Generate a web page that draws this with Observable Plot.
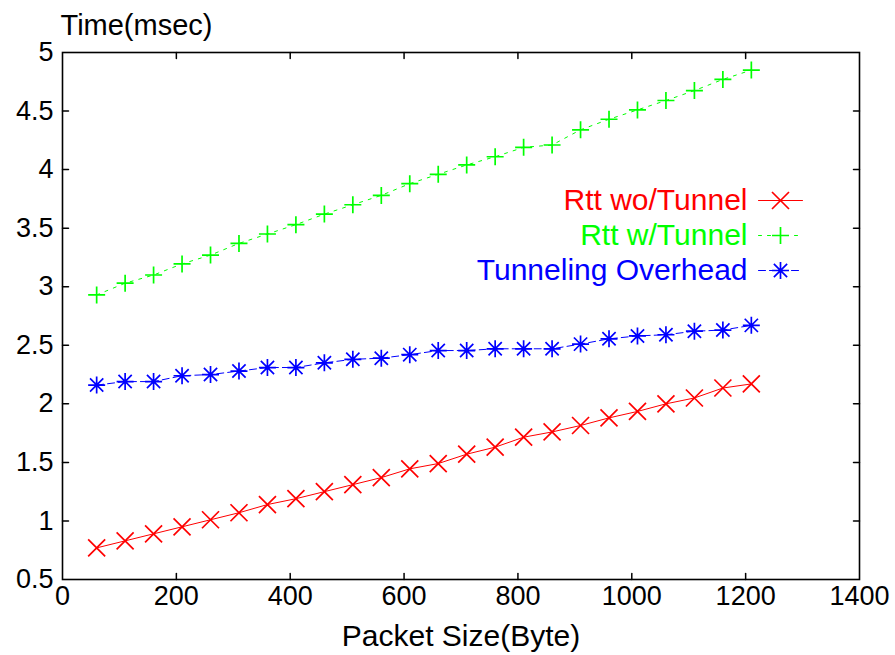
<!DOCTYPE html>
<html>
<head>
<meta charset="utf-8">
<script src="https://cdn.jsdelivr.net/npm/d3@7"></script>
<script src="https://cdn.jsdelivr.net/npm/@observablehq/plot@0.6"></script>
<style>
  html, body { margin: 0; padding: 0; background: #fff; }
  #chart svg { display: block; }
</style>
</head>
<body>
<div id="chart"></div>
<script>
// ---- data ----
const packetSizes = [60, 110, 160, 210, 260, 310, 360, 410, 460, 510, 560, 610, 660, 710, 760, 810, 860, 910, 960, 1010, 1060, 1110, 1160, 1210];
const rttWoTunnel = [0.77, 0.83, 0.89, 0.95, 1.01, 1.07, 1.14, 1.19, 1.25, 1.31, 1.37, 1.445, 1.49, 1.57, 1.63, 1.715, 1.76, 1.815, 1.88, 1.935, 2.0, 2.05, 2.135, 2.17];
const rttWTunnel = [2.93, 3.03, 3.10, 3.195, 3.27, 3.37, 3.45, 3.53, 3.62, 3.70, 3.78, 3.88, 3.96, 4.04, 4.11, 4.19, 4.21, 4.34, 4.43, 4.51, 4.59, 4.675, 4.77, 4.85];
const tunnelOverhead = [2.16, 2.19, 2.19, 2.24, 2.25, 2.28, 2.31, 2.31, 2.35, 2.38, 2.39, 2.42, 2.455, 2.455, 2.47, 2.47, 2.47, 2.51, 2.555, 2.58, 2.59, 2.62, 2.63, 2.67];
const seriesNames = ["Rtt wo/Tunnel", "Rtt w/Tunnel", "Tunneling Overhead"];
const xTicks = [0, 200, 400, 600, 800, 1000, 1200, 1400];
const yTicks = [0.5, 1, 1.5, 2, 2.5, 3, 3.5, 4, 4.5, 5];
const xLabel = "Packet Size(Byte)";
const yLabel = "Time(msec)";

// ---- symbols (gnuplot style) ----
const symTimes = {draw(c, s) { const r = Math.sqrt(s / Math.PI); c.moveTo(-r, -r); c.lineTo(r, r); c.moveTo(-r, r); c.lineTo(r, -r); }};
const symPlus = {draw(c, s) { const r = Math.sqrt(s / Math.PI); c.moveTo(-r, 0); c.lineTo(r, 0); c.moveTo(0, -r); c.lineTo(0, r); }};
const symStar = {draw(c, s) { const r = Math.sqrt(s / Math.PI); const q = r * 0.78; c.moveTo(-r, 0); c.lineTo(r, 0); c.moveTo(0, -r); c.lineTo(0, r); c.moveTo(-q, -q); c.lineTo(q, q); c.moveTo(-q, q); c.lineTo(q, -q); }};
const tickShape = {draw(c, l) { c.moveTo(0, 0); c.lineTo(0, -l); }};

const series = [
  {name: seriesNames[0], values: rttWoTunnel, color: "#ff0000", symbol: symTimes, dash: null},
  {name: seriesNames[1], values: rttWTunnel, color: "#00ff00", symbol: symPlus, dash: "3,6"},
  {name: seriesNames[2], values: tunnelOverhead, color: "#0000ff", symbol: symStar, dash: "7,4"}
];

const rows = series.map(s => packetSizes.map((x, i) => ({x, y: s.values[i]})));

const marks = [];
series.forEach((s, k) => {
  marks.push(Plot.line(rows[k], {x: "x", y: "y", stroke: s.color, strokeWidth: 1, strokeDasharray: s.dash}));
  marks.push(Plot.dot(rows[k], {x: "x", y: "y", symbol: s.symbol, r: 8.5, stroke: s.color, fill: "none", strokeWidth: 1.7}));
});

// legend
series.forEach((s, k) => {
  const dy = 148 + 35 * k;
  marks.push(Plot.text([s.name], {text: d => d, frameAnchor: "top-right", dx: -112, dy, textAnchor: "end", lineAnchor: "middle", fill: s.color, fontSize: 30}));
  marks.push(Plot.vector([0], {frameAnchor: "top-right", dx: -101, dy, rotate: 90, length: 44, anchor: "start", shape: tickShape, stroke: s.color, strokeWidth: 1, strokeDasharray: s.dash}));
  marks.push(Plot.dot([0], {frameAnchor: "top-right", dx: -79, dy, symbol: s.symbol, r: 8.5, stroke: s.color, fill: "none", strokeWidth: 1.7}));
});

// inward ticks on all four sides
marks.push(Plot.vector(xTicks.slice(1, -1), {x: d => d, frameAnchor: "bottom", rotate: 0, length: 6, anchor: "start", shape: tickShape, stroke: "black", strokeWidth: 1.5}));
marks.push(Plot.vector(xTicks.slice(1, -1), {x: d => d, frameAnchor: "top", rotate: 180, length: 6, anchor: "start", shape: tickShape, stroke: "black", strokeWidth: 1.5}));
marks.push(Plot.vector(yTicks.slice(1, -1), {y: d => d, frameAnchor: "left", rotate: 90, length: 6, anchor: "start", shape: tickShape, stroke: "black", strokeWidth: 1.5}));
marks.push(Plot.vector(yTicks.slice(1, -1), {y: d => d, frameAnchor: "right", rotate: -90, length: 6, anchor: "start", shape: tickShape, stroke: "black", strokeWidth: 1.5}));

marks.push(Plot.axisX({ticks: xTicks, tickSize: 0, tickPadding: 6, tickFormat: d => String(d), label: null, fontSize: 27}));
marks.push(Plot.axisY({ticks: yTicks, tickSize: 0, tickPadding: 9, tickFormat: d => String(d), label: null, fontSize: 27}));
marks.push(Plot.frame({stroke: "black", strokeWidth: 1.6}));
marks.push(Plot.text([yLabel], {text: d => d, frameAnchor: "top-left", dy: -27, dx: -2, textAnchor: "start", lineAnchor: "middle", fontSize: 29, fill: "black"}));
marks.push(Plot.text([xLabel], {text: d => d, frameAnchor: "bottom", dy: 57, lineAnchor: "middle", fontSize: 30, fill: "black"}));

const chart = Plot.plot({
  width: 895,
  height: 655,
  marginLeft: 62,
  marginRight: 36,
  marginTop: 52,
  marginBottom: 76,
  style: {fontFamily: "'Liberation Sans', Arial, Helvetica, sans-serif", fontSize: "27px", background: "#fff", color: "black"},
  x: {domain: [0, 1400]},
  y: {domain: [0.5, 5]},
  marks
});
document.getElementById("chart").appendChild(chart);
</script>
</body>
</html>
